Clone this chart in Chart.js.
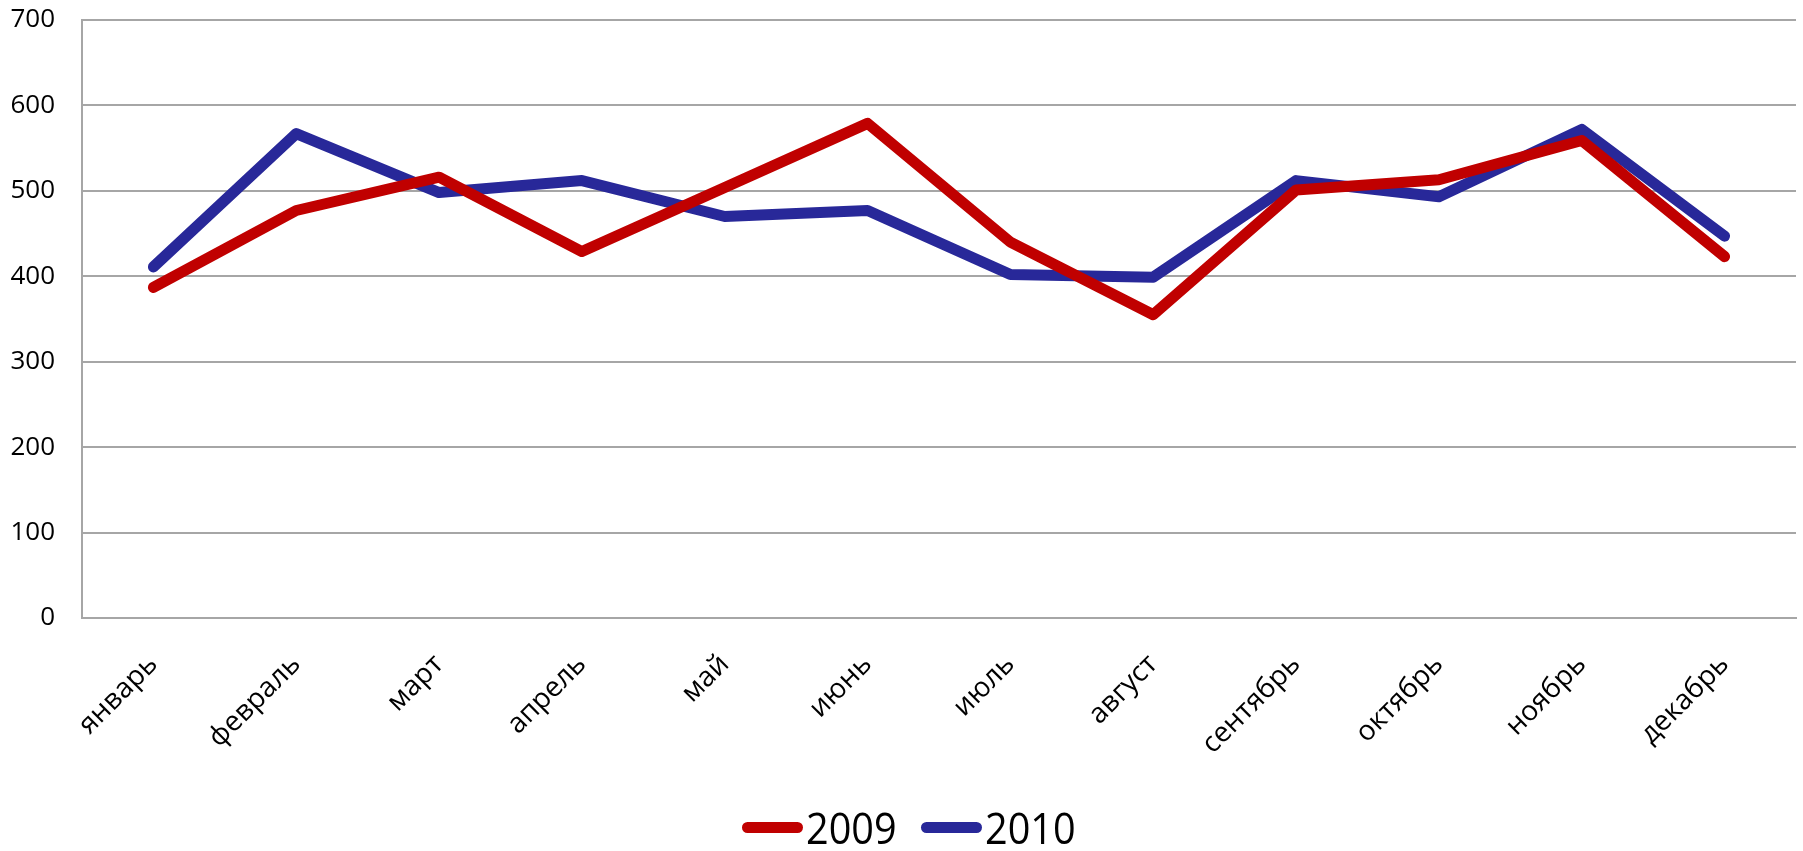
<html>
<head>
  <meta charset="utf-8">
  <title>2009 / 2010</title>
  <script src="https://cdn.jsdelivr.net/npm/chart.js"></script>
  <style>
    html, body { margin: 0; padding: 0; background: white; }
    #box { position: relative; width: 1803px; height: 851px; }
    #legenda {
      position: absolute; left: 742px; top: 805px;
      display: flex; align-items: center;
      font-family: 'Open Sans'; font-size: 44px; line-height: 1; color: #000;
    }
    .voce { display: flex; align-items: center; margin-right: 23px; }
    .riga { width: 61px; height: 11px; border-radius: 6px; margin-right: 3px; }
    /* testo un po' stretto come nell'originale */
    .voce span { display: inline-block; width: 92px; white-space: nowrap;
                 transform: scaleX(0.9); transform-origin: left center; }
  </style>
</head>
<body>
  <div id="box">
    <canvas id="grafico"></canvas>
    <div id="legenda"></div>
  </div>
  <script>
    // dati
    var mesi = ["январь", "февраль", "март", "апрель", "май", "июнь",
                "июль", "август", "сентябрь", "октябрь", "ноябрь", "декабрь"];
    var anno2009 = [387, 477, 516, 429, 504, 579, 440, 355, 501, 513, 559, 423];
    var anno2010 = [411, 567, 498, 512, 470, 477, 402, 399, 512, 493, 572, 447];
    var etichetteY = [0, 100, 200, 300, 400, 500, 600, 700];

    var rosso = '#c00000';
    var blu = '#282899';
    var grigio = '#a6a6a6';

    var grafico = new Chart(document.getElementById('grafico'), {
      type: 'line',
      data: {
        labels: mesi,
        datasets: [{
          label: '2009',
          data: anno2009,
          borderColor: rosso,
          backgroundColor: rosso,
          borderWidth: 11,
          borderCapStyle: 'round',
          borderJoinStyle: 'round',
          pointRadius: 0,
          tension: 0
        }, {
          label: '2010',
          data: anno2010,
          borderColor: blu,
          backgroundColor: blu,
          borderWidth: 11,
          borderCapStyle: 'round',
          borderJoinStyle: 'round',
          pointRadius: 0,
          tension: 0
        }]
      },
      options: {
        responsive: true,
        maintainAspectRatio: false,
        animation: false,
        layout: { autoPadding: false, padding: { top: 20, right: 7, left: 0, bottom: 83 } },
        plugins: {
          tooltip: { enabled: false },
          legend: { display: false }
        },
        scales: {
          x: {
            offset: true,
            afterFit: function (s) { s.height = 150; },
            grid: { display: false, drawTicks: false },
            border: { display: true, color: grigio, width: 2 },
            ticks: {
              color: '#000',
              font: { family: 'Open Sans', size: 28 },
              maxRotation: 45,
              minRotation: 45,
              padding: 30
            }
          },
          y: {
            min: 0,
            max: 700,
            afterFit: function (s) { s.width = 82; },
            afterBuildTicks: function (asse) {
              asse.ticks = etichetteY.map(function (v) { return { value: v }; });
            },
            // tacche trasparenti: servono solo a staccare le etichette dall'asse
            grid: { color: grigio, lineWidth: 2, drawTicks: true, tickLength: 27, tickColor: 'rgba(0,0,0,0)' },
            border: { display: true, color: grigio, width: 2 },
            ticks: {
              color: '#000',
              font: { family: 'Open Sans', size: 26 },
              padding: 0
            }
          }
        }
      }
    });

    // legenda in html sotto il grafico
    var legenda = document.getElementById('legenda');
    grafico.data.datasets.forEach(function (ds) {
      var voce = document.createElement('div');
      voce.className = 'voce';
      var riga = document.createElement('div');
      riga.className = 'riga';
      riga.style.background = ds.borderColor;
      var testo = document.createElement('span');
      testo.textContent = ds.label;
      voce.appendChild(riga);
      voce.appendChild(testo);
      legenda.appendChild(voce);
    });
  </script>
</body>
</html>
